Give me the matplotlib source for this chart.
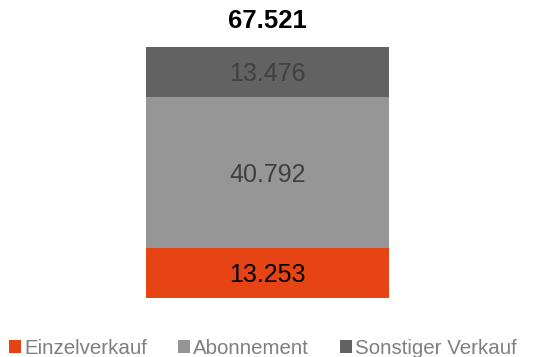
import matplotlib.pyplot as plt
from matplotlib.patches import Patch

plt.rcParams['font.family'] = ['Liberation Sans', 'DejaVu Sans']

# Verkaufte Auflage nach Vertriebsart
categories = ['Einzelverkauf', 'Abonnement', 'Sonstiger Verkauf']
values = [13.253, 40.792, 13.476]
labels = ['13.253', '40.792', '13.476']
total_label = '67.521'
colors = ['#E64415', '#969696', '#626262']
text_colors = ['#000000', '#404040', '#404040']

fig = plt.figure(figsize=(5.37, 3.57), dpi=100)
ax = fig.add_axes([146 / 537, 59.5 / 357, 243 / 537, 250.5 / 357])

bottom = 0
for val, lab, col, tcol in zip(values, labels, colors, text_colors):
    ax.bar(0, val, width=1.0, bottom=bottom, color=col, linewidth=0)
    ax.text(0, bottom + val / 2 - 0.6, lab, ha='center', va='center',
            fontsize=18, color=tcol)
    bottom += val

total = sum(values)
ax.text(0, total + 7.0, total_label, ha='center', va='center',
        fontsize=18.5, fontweight='bold', color='black')

ax.set_xlim(-0.5, 0.5)
ax.set_ylim(0, total)
ax.axis('off')

handles = [Patch(facecolor=c, edgecolor='none') for c in colors]
leg = fig.legend(handles, categories, loc='center', bbox_to_anchor=(263 / 537, 1 - 348 / 357),
                 ncol=3, frameon=False, fontsize=14.8, handlelength=0.6,
                 handleheight=0.6, handletextpad=0.15, columnspacing=1.5,
                 borderaxespad=0, borderpad=0)
for t in leg.get_texts():
    t.set_color('#7F7F7F')

fig.savefig('out.png', dpi=100)
